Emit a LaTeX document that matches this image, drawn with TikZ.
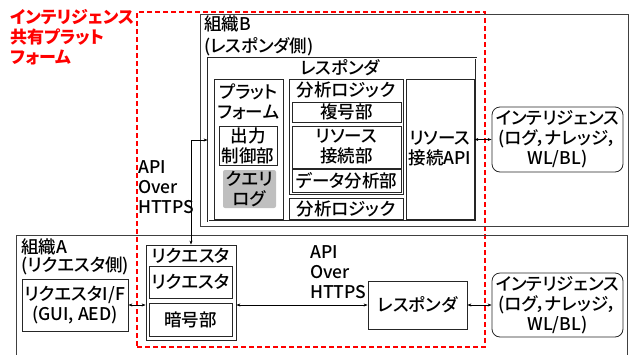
\documentclass[tikz,border=0pt]{standalone}
\usepackage{fontspec}
\setmainfont{Noto Sans CJK JP}[RawFeature=+palt, BoldFont={* Medium}]
\newfontfamily\titlefont{Noto Sans CJK JP}[RawFeature=+palt]
\usetikzlibrary{arrows.meta}
\begin{document}
\begin{tikzpicture}[x=1pt,y=-1pt,
  every node/.style={inner sep=0pt, font=\fontsize{17.5}{20}\selectfont\bfseries},
  box/.style={draw=black!85, line width=0.8pt, align=center},
  lbl/.style={align=center},
  rbox/.style={box, rounded corners=8pt},
  conn/.style={line width=0.8pt, {Stealth[length=4pt,width=3pt]}-{Stealth[length=4pt,width=3pt]}},
  reddash/.style={draw=red, line width=1.2pt, dash pattern=on 5pt off 3pt}
]
\useasboundingbox (0,0) rectangle (632,354);
% platform (red dashed)
\node[reddash, minimum width=348pt, minimum height=335pt] (plat) at (311,179.5) {};
\node[lbl, anchor=north west, align=left, text=red, font=\fontsize{17}{20}\selectfont\titlefont\bfseries] (platT) at (10,9) {インテリジェンス\\共有プラット\\フォーム};
% organisation B
\node[box, draw=black!75, minimum width=428pt, minimum height=212pt] (orgB) at (414,120) {};
\node[lbl, anchor=north west, align=left, font=\fontsize{17.5}{22}\selectfont\bfseries] (orgBT) at (204,16) {組織B\\(レスポンダ側)};
\node[box, double, double distance=1pt, minimum width=268pt, minimum height=163pt] (respO) at (342,139.5) {};
\node[lbl] (respOT) at (340,68) {レスポンダ};
\node[box, minimum width=69pt, minimum height=140pt] (pf) at (248.5,149) {};
\node[lbl] (pfT) at (248.5,101.5) {プラット\\フォーム};
\node[box, minimum width=58pt, minimum height=39pt] (ctrl) at (248,145.5) {出力\\制御部};
\node[fill=black!25, rounded corners=2pt, minimum width=53pt, minimum height=38pt, align=center] (qlog) at (249.5,189) {クエリ\\ログ};
\node[box, minimum width=114pt, minimum height=115pt] (anaO) at (346,136.5) {};
\node[lbl] (anaOT) at (346,90) {分析ロジック};
\node[box, minimum width=109pt, minimum height=20pt] (dec) at (346.5,112) {複号部};
\node[box, minimum width=109pt, minimum height=42pt] (rconn) at (346.5,147) {リソース\\接続部};
\node[box, minimum width=109pt, minimum height=23pt] (dana) at (346.5,180.5) {データ分析部};
\node[box, minimum width=114pt, minimum height=21pt] (ana2) at (346,208.5) {分析ロジック};
\node[box, minimum width=68pt, minimum height=140pt] (api) at (440,149) {リソース\\接続API};
\node[rbox, minimum width=131pt, minimum height=65pt] (intT) at (557.5,139.5) {インテリジェンス\\(ログ，ナレッジ，\\WL/BL)};
% organisation A
\draw[draw=black!75, line width=0.8pt] (16,360) -- (16,235) -- (627,235) -- (627,360);
\node[lbl, anchor=north west, align=left, font=\fontsize{17.5}{18}\selectfont\bfseries] (orgAT) at (21,239) {組織A\\(リクエスタ側)};
\node[box, minimum width=106pt, minimum height=52pt] (rif) at (75,305) {リクエスタI/F\\(GUI, AED)};
\node[box, minimum width=90pt, minimum height=95pt] (reqO) at (191,292.5) {};
\node[lbl] (reqOT) at (191,256) {リクエスタ};
\node[box, minimum width=83pt, minimum height=32pt] (req) at (190.5,282) {リクエスタ};
\node[box, minimum width=83pt, minimum height=33pt] (enc) at (190.5,319.5) {暗号部};
\node[box, minimum width=99pt, minimum height=48pt] (respB) at (417.5,305) {レスポンダ};
\node[rbox, minimum width=131pt, minimum height=64pt] (intB) at (557.5,305) {インテリジェンス\\(ログ，ナレッジ，\\WL/BL)};
% labels
\node[lbl, anchor=north west, align=left] (api1) at (138,160) {API\\Over\\HTTPS};
\node[lbl, anchor=north west, align=left] (api2) at (310,245) {API\\Over\\HTTPS};
% connectors
\coordinate (inR) at (respO.west |- 0,140);
\draw[conn] (inR) -| (reqO.north);
\draw[conn] (api.east |- intT.west) -- (intT.west);
\draw[conn] (rif.east) -- (rif.east -| reqO.west);
\draw[conn] (respB.west -| reqO.east) -- (respB.west);
\draw[conn] (respB.east) -- (intB.west);
\end{tikzpicture}
\end{document}
